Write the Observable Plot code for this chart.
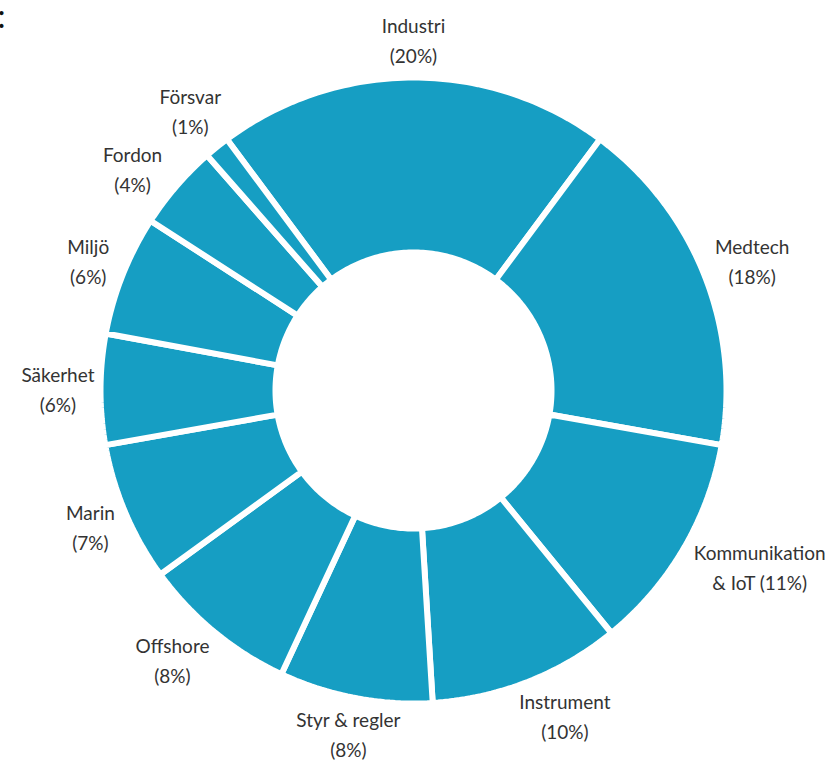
<!DOCTYPE html>
<html>
<head>
<meta charset="utf-8">
<script src="https://cdn.jsdelivr.net/npm/d3@7"></script>
<script src="https://cdn.jsdelivr.net/npm/@observablehq/plot@0.6"></script>
<style>
  html, body { margin: 0; padding: 0; background: #fff; }
  #chart { width: 835px; height: 760px; }
</style>
</head>
<body>
<div id="chart"></div>
<script>
// ---- data ----
const categories = ["Industri", "Medtech", "Kommunikation & IoT", "Instrument", "Styr & regler", "Offshore", "Marin", "Säkerhet", "Miljö", "Fordon", "Försvar"];
const labelTexts = ["Industri\n(20%)", "Medtech\n(18%)", "Kommunikation\n& IoT (11%)", "Instrument\n(10%)", "Styr & regler\n(8%)", "Offshore\n(8%)", "Marin\n(7%)", "Säkerhet\n(6%)", "Miljö\n(6%)", "Fordon\n(4%)", "Försvar\n(1%)"];
const shares = [20.3, 17.6, 11.3, 9.9, 7.9, 8.05, 7.2, 5.7, 6.2, 4.4, 1.3];

// ---- layout ----
const W = 835, H = 760;
const CX = 413, CY = 390;      // pixel centre of the donut
const R = 310;                 // pixel outer radius (visible)
const GAP = 6;                 // white separator width
const INNER = 141;             // pixel inner radius (visible)
const START = -36.6 * Math.PI / 180;
const FONT = "Lato";
const FS = 19, LH = 30;
const COLOR = "#169ec3";

const pie = d3.pie().sort(null).value(d => d.value).startAngle(START).endAngle(START + 2 * Math.PI);
const arcs = pie(categories.map((c, i) => ({cat: c, value: shares[i], label: labelTexts[i]})));

// polygon vertices for each slice (data units: 1 = R pixels)
const ro = (R + GAP / 2) / R, ri = (INNER - GAP / 2) / R;
const pts = [];
for (const a of arcs) {
  const n = Math.max(4, Math.ceil((a.endAngle - a.startAngle) * 180 / Math.PI));
  for (let k = 0; k <= n; k++) {
    const t = a.startAngle + (a.endAngle - a.startAngle) * k / n;
    pts.push({cat: a.data.cat, x: ro * Math.sin(t), y: ro * Math.cos(t)});
  }
  for (let k = n; k >= 0; k--) {
    const t = a.startAngle + (a.endAngle - a.startAngle) * k / n;
    pts.push({cat: a.data.cat, x: ri * Math.sin(t), y: ri * Math.cos(t)});
  }
}

// label placement: vertical position on a circle, separated vertically if
// boxes collide, then pushed sideways until the box clears radius R0
const ctx = document.createElement("canvas").getContext("2d");
ctx.font = `${FS}px ${FONT}`;
const R0 = 319, RL = 350, PAD = 8;
const boxes = arcs.map(a => {
  const th = (a.startAngle + a.endAngle) / 2;
  const lines = a.data.label.split("\n");
  const w = Math.max(...lines.map(l => ctx.measureText(l).width));
  return {label: a.data.label, ux: Math.sin(th), hw: w / 2,
          hh: (LH * (lines.length - 1) + FS * 1.05) / 2, py: RL * Math.cos(th)};
});
function placeX(b) {
  const nearY = Math.max(0, Math.abs(b.py) - b.hh);
  const needX = nearY >= R0 ? 0 : Math.sqrt(R0 * R0 - nearY * nearY) + b.hw;
  b.px = Math.sign(b.ux) * Math.max(Math.abs(RL * b.ux), needX);
}
boxes.forEach(placeX);
for (let iter = 0; iter < 20; iter++) {
  for (let i = 0; i < boxes.length; i++) for (let j = i + 1; j < boxes.length; j++) {
    const A = boxes[i], B = boxes[j];
    if (Math.abs(A.px - B.px) >= A.hw + B.hw) continue;
    const need = A.hh + B.hh + PAD, d = A.py - B.py;
    if (Math.abs(d) < need) {
      const s = (need - Math.abs(d)) / 2 * (d >= 0 ? 1 : -1);
      A.py += s; B.py -= s;
    }
  }
  boxes.forEach(placeX);
}
const labelData = boxes.map(b => ({label: b.label, x: b.px / R, y: b.py / R}));

const chart = Plot.plot({
  width: W,
  height: H,
  margin: 0,
  x: {domain: [-CX / R, (W - CX) / R], axis: null},
  y: {domain: [-(H - CY) / R, CY / R], axis: null},
  style: {fontFamily: FONT, background: "#fff", overflow: "visible"},
  marks: [
    Plot.line(pts, {x: "x", y: "y", z: "cat", fill: COLOR, stroke: "white", strokeWidth: GAP, curve: "linear-closed", strokeLinejoin: "miter"}),
    Plot.text(labelData, {x: "x", y: "y", text: "label", fontSize: FS, lineHeight: LH / FS, fill: "#333", textAnchor: "middle", dy: -2}),
    Plot.text([":"], {frameAnchor: "top-left", dx: -3, dy: 5, fontSize: 32, fill: "#111"})
  ]
});
document.getElementById("chart").appendChild(chart);
</script>
</body>
</html>
